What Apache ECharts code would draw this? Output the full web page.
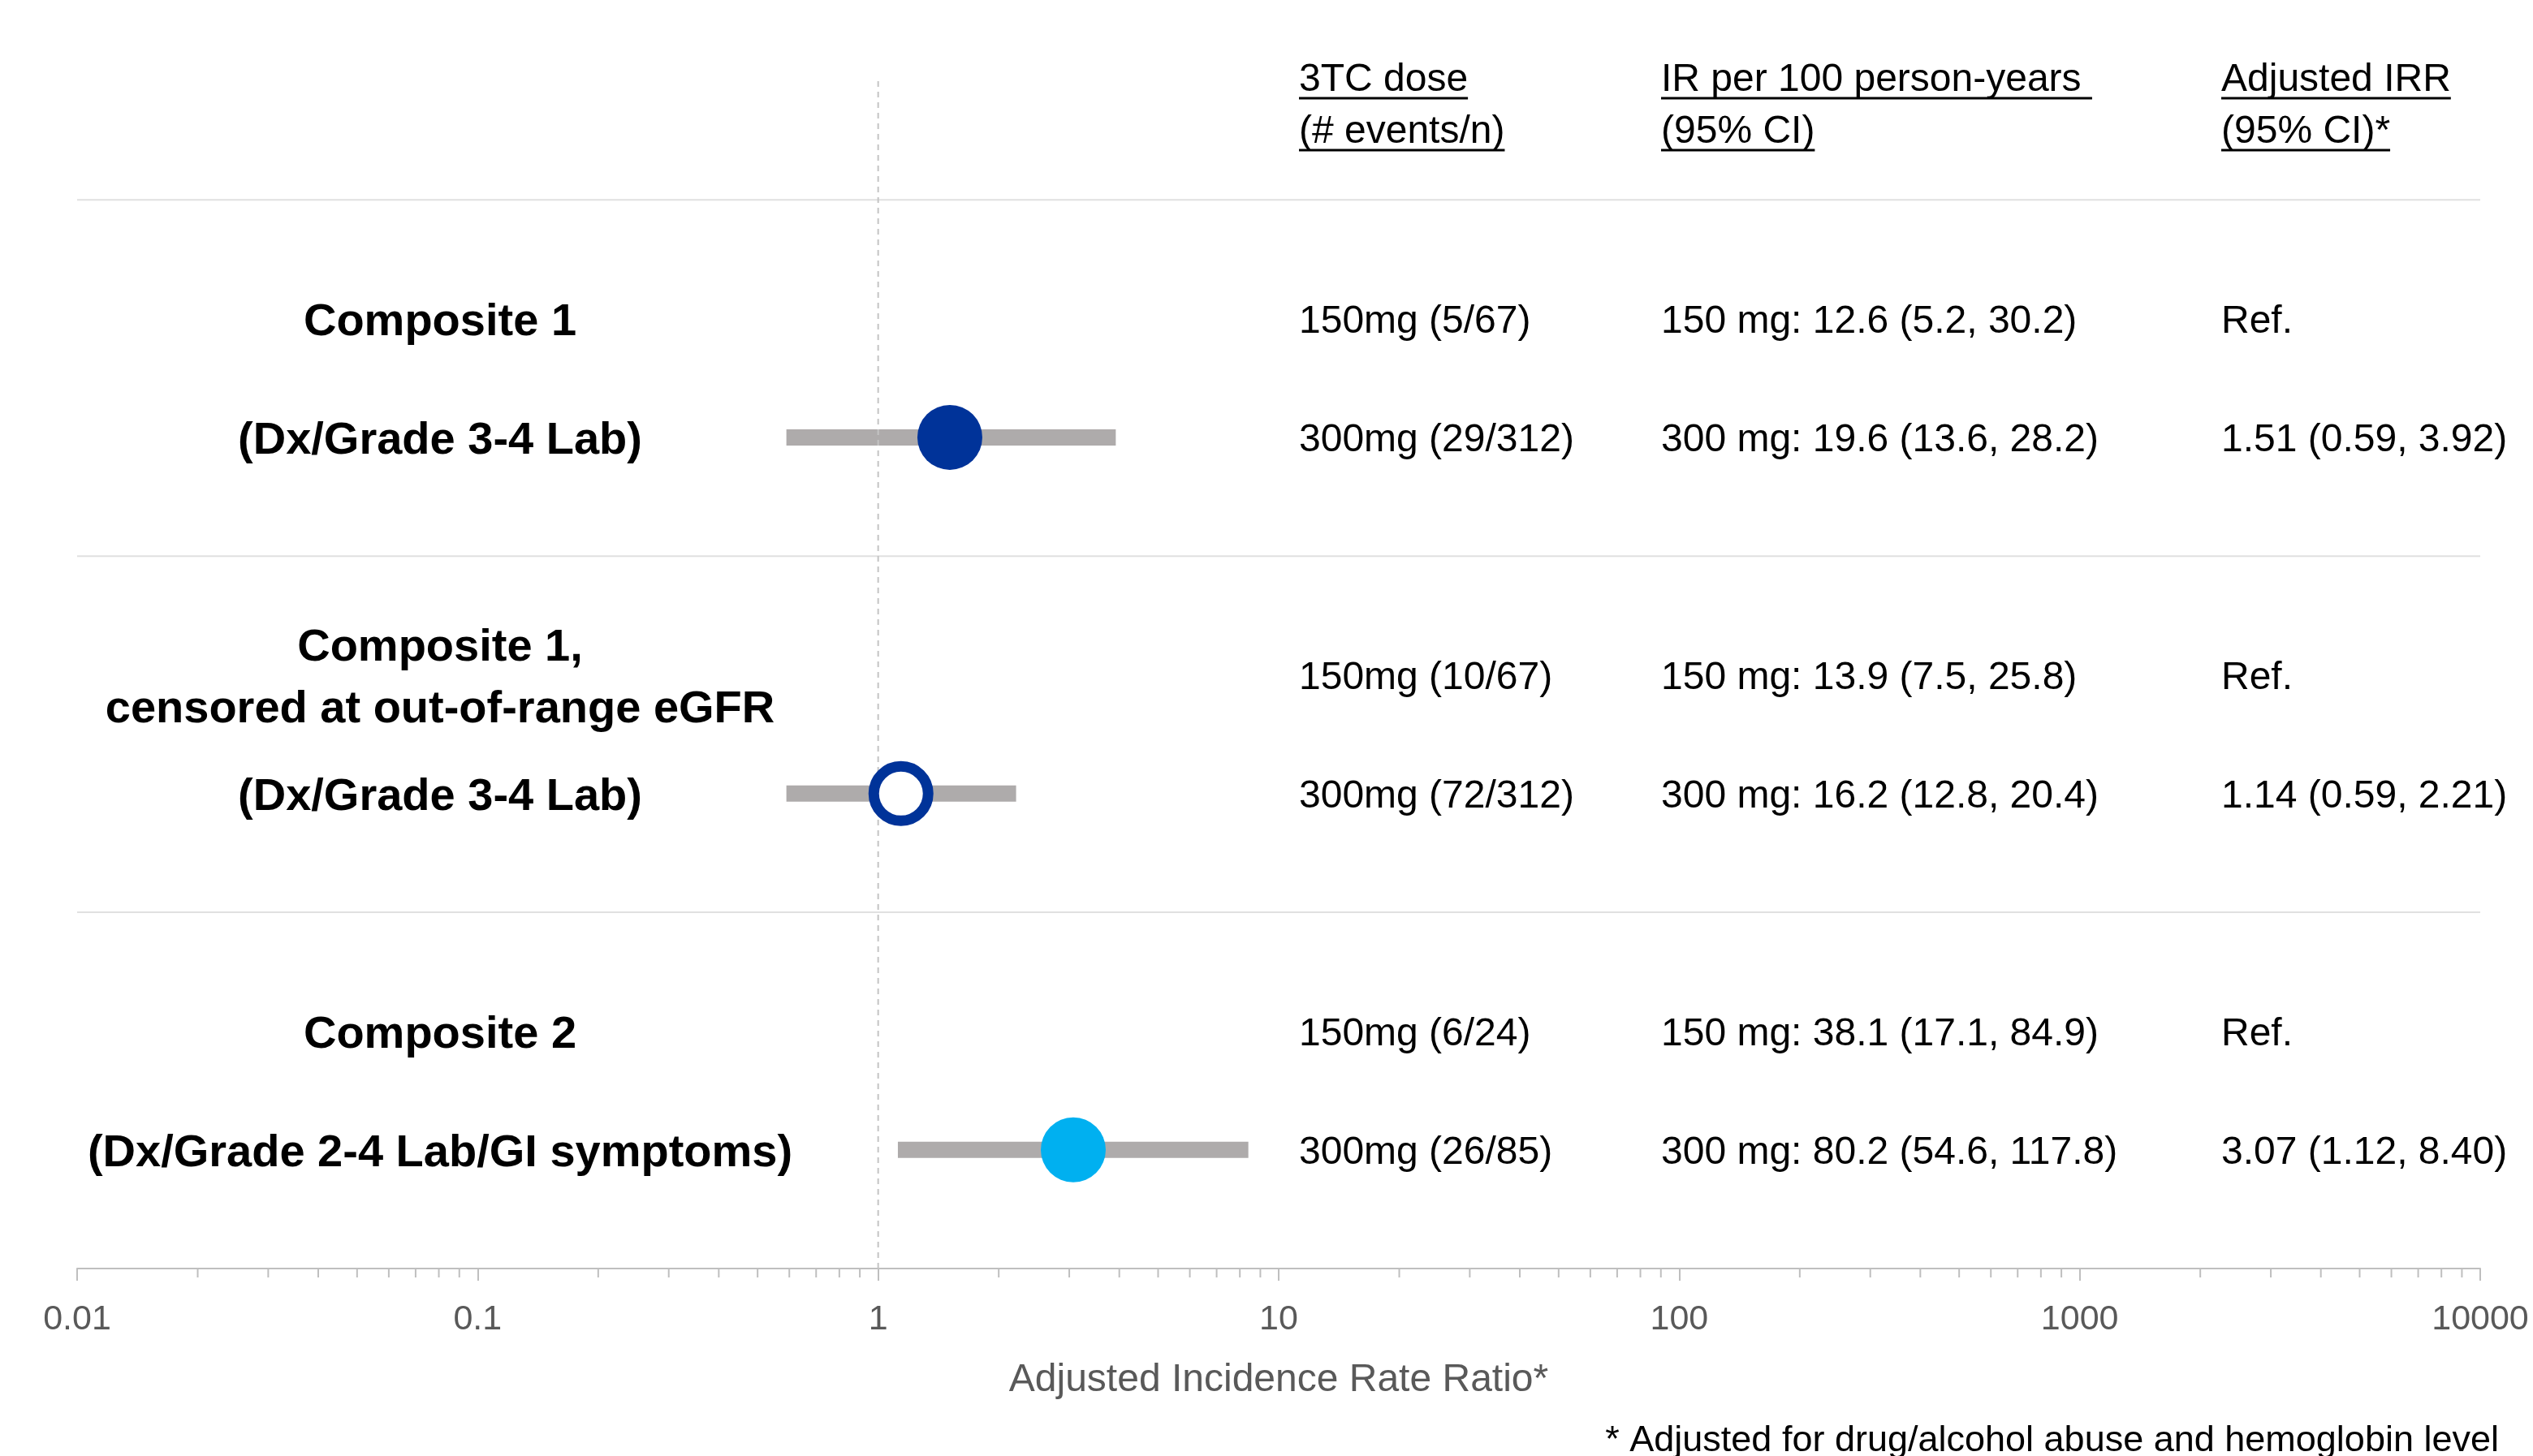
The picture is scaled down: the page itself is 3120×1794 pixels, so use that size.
<!DOCTYPE html>
<html>
<head>
<meta charset="utf-8">
<script src="https://cdn.jsdelivr.net/npm/echarts@6/dist/echarts.min.js"></script>
<style>
  html, body { margin: 0; padding: 0; background: #ffffff; }
  #main { width: 3120px; height: 1794px; }
</style>
</head>
<body>
<div id="main"></div>
<script>
// ---------- data ----------
const outcomes = ['Composite 1', 'Composite 1,\ncensored at out-of-range eGFR', 'Composite 2'];
const outcomeDefs = ['(Dx/Grade 3-4 Lab)', '(Dx/Grade 3-4 Lab)', '(Dx/Grade 2-4 Lab/GI symptoms)'];
const dose150 = ['150mg (5/67)', '150mg (10/67)', '150mg (6/24)'];
const dose300 = ['300mg (29/312)', '300mg (72/312)', '300mg (26/85)'];
const ir150 = ['150 mg: 12.6 (5.2, 30.2)', '150 mg: 13.9 (7.5, 25.8)', '150 mg: 38.1 (17.1, 84.9)'];
const ir300 = ['300 mg: 19.6 (13.6, 28.2)', '300 mg: 16.2 (12.8, 20.4)', '300 mg: 80.2 (54.6, 117.8)'];
const irrRef = ['Ref.', 'Ref.', 'Ref.'];
const irrEst = [1.51, 1.14, 3.07];
const irrLow = [0.59, 0.59, 1.12];
const irrHigh = [3.92, 2.21, 8.40];
const headers = [
  ['3TC dose', '(# events/n)'],
  ['IR per 100 person-years ', '(95% CI)'],
  ['Adjusted IRR', '(95% CI)*']
];
const tickLabels = ['0.01', '0.1', '1', '10', '100', '1000', '10000'];
const decades = [0.01, 0.1, 1, 10, 100, 1000];
const minorMultipliers = [2, 3, 4, 5, 6, 7, 8, 9];
const axisTitle = 'Adjusted Incidence Rate Ratio*';
const footnote = '* Adjusted for drug/alcohol abuse and hemoglobin level';

// ---------- layout helpers ----------
const FONT = '"Liberation Sans", Arial, sans-serif';
const colX = [1600, 2046, 2736];
const labelX = 542;
const textShift = 4;   // cap-centre correction for 'middle' baseline
const pointStyles = [
  { color: '#003399' },
  { color: '#ffffff', borderColor: '#003399', borderWidth: 13 },
  { color: '#00B0F0' }
];
const pointSizes = [80, 67, 80];

// band i: top separator at 3i, 150mg row at 3i+1, 300mg row at 3i+2
const bandIdx = outcomes.map((_, i) => i);
const row150 = i => 3 * i + 1;
const row300 = i => 3 * i + 2;

const minorTicks = [];
decades.forEach(d => minorMultipliers.forEach(m => minorTicks.push([d * m, 9])));

const measureCtx = document.createElement('canvas').getContext('2d');
function textWidth(t, size, weight) {
  measureCtx.font = (weight || 'normal') + ' ' + size + 'px ' + FONT;
  return measureCtx.measureText(t).width;
}

const chart = echarts.init(document.getElementById('main'));

// header graphics with underlines
const headerGraphics = [];
const headerY = [99, 163];
const underlineY = [121, 185];
headers.forEach((h, c) => {
  h.forEach((line, k) => {
    headerGraphics.push({
      type: 'text', x: colX[c], y: headerY[k], silent: true,
      style: { text: line, fontSize: 48, fontFamily: FONT, fill: '#000', verticalAlign: 'middle' }
    });
    const w = textWidth(line, 48);
    headerGraphics.push({
      type: 'rect', silent: true,
      shape: { x: colX[c], y: underlineY[k] - 1.5, width: w, height: 3 },
      style: { fill: '#000' }
    });
  });
});
headerGraphics.push({
  type: 'text', x: 3078, y: 1776, silent: true,
  style: { text: footnote, fontSize: 45, fontFamily: FONT, fill: '#000', align: 'right', verticalAlign: 'middle' }
});

const option = {
  animation: false,
  textStyle: { fontFamily: FONT },
  grid: { left: 95, right: 65, top: 100, bottom: 231 },
  xAxis: {
    type: 'log', logBase: 10, min: 0.01, max: 10000, splitNumber: 6,
    axisLine: { onZero: false, lineStyle: { color: '#bfbfbf', width: 2 } },
    axisTick: { length: 15, lineStyle: { color: '#bfbfbf', width: 2 } },
    axisLabel: {
      fontSize: 43, color: '#595959', margin: 63, verticalAlign: 'middle',
      formatter: v => tickLabels[Math.round(Math.log10(v)) + 2]
    },
    splitLine: { show: false },
    name: axisTitle, nameLocation: 'middle', nameGap: 138,
    nameTextStyle: { fontSize: 48, color: '#595959', verticalAlign: 'middle' }
  },
  yAxis: { type: 'value', min: -1, max: 9, inverse: true, show: false, splitLine: { show: false } },
  graphic: headerGraphics,
  series: [
    { // separators
      type: 'custom', silent: true, clip: false, z: 1,
      data: bandIdx.map(i => [1, 3 * i]),
      encode: { x: 0, y: 1 },
      renderItem: (params, api) => {
        const a = api.coord([0.01, api.value(1)]);
        const b = api.coord([10000, api.value(1)]);
        return { type: 'line', shape: { x1: a[0], y1: a[1], x2: b[0], y2: b[1] },
          style: { stroke: '#e0e0e0', lineWidth: 2 } };
      }
    },
    { // minor ticks
      type: 'custom', silent: true, clip: false, z: 1,
      data: minorTicks, encode: { x: 0, y: 1 },
      renderItem: (params, api) => {
        const p = api.coord([api.value(0), api.value(1)]);
        return { type: 'line', shape: { x1: p[0], y1: p[1], x2: p[0], y2: p[1] + 11 },
          style: { stroke: '#bfbfbf', lineWidth: 2 } };
      }
    },
    { // CI bars
      type: 'custom', silent: true, z: 2,
      data: bandIdx.map(i => [irrLow[i], irrHigh[i], row300(i)]),
      encode: { x: [0, 1], y: 2 },
      renderItem: (params, api) => {
        const a = api.coord([api.value(0), api.value(2)]);
        const b = api.coord([api.value(1), api.value(2)]);
        return { type: 'rect', shape: { x: a[0], y: a[1] - 10, width: b[0] - a[0], height: 20 },
          style: { fill: '#AEABAB' } };
      }
    },
    { // reference line at 1
      type: 'custom', silent: true, clip: false, z: 3,
      data: [[1, -1, 9]], encode: { x: 0, y: [1, 2] },
      renderItem: (params, api) => {
        const a = api.coord([api.value(0), api.value(1)]);
        const b = api.coord([api.value(0), api.value(2)]);
        return { type: 'line', shape: { x1: a[0], y1: a[1], x2: b[0], y2: b[1] },
          style: { stroke: '#c4c4c4', lineWidth: 2, lineDash: [7, 6] } };
      }
    },
    { // point estimates
      type: 'scatter', silent: true, z: 4,
      data: bandIdx.map(i => ({
        value: [irrEst[i], row300(i)],
        symbolSize: pointSizes[i],
        itemStyle: Object.assign({ opacity: 1 }, pointStyles[i])
      }))
    },
    { // table text & outcome labels
      type: 'custom', silent: true, clip: false, z: 5,
      data: bandIdx.map(i => [1, row150(i), row300(i)]),
      encode: { x: 0, y: [1, 2] },
      renderItem: (params, api) => {
        const i = params.dataIndex;
        const y1 = api.coord([1, api.value(1)])[1] + textShift;
        const y2 = api.coord([1, api.value(2)])[1] + textShift;
        const children = [];
        const txt = (t, x, y, size, weight, align) => children.push({
          type: 'text', x: x, y: y,
          style: { text: t, fontSize: size, fontWeight: weight || 'normal', fontFamily: FONT,
            fill: '#000', align: align || 'left', verticalAlign: 'middle' }
        });
        const titleLines = outcomes[i].split('\n');
        const gap = 76;
        titleLines.forEach((t, k) => {
          txt(t, labelX, y1 + 1 + (k - (titleLines.length - 1) / 2) * gap, 56, 'bold', 'center');
        });
        txt(outcomeDefs[i], labelX, y2 + 1, 56, 'bold', 'center');
        txt(dose150[i], colX[0], y1, 48);
        txt(dose300[i], colX[0], y2, 48);
        txt(ir150[i], colX[1], y1, 48);
        txt(ir300[i], colX[1], y2, 48);
        txt(irrRef[i], colX[2], y1, 48);
        txt(irrEst[i].toFixed(2) + ' (' + irrLow[i].toFixed(2) + ', ' + irrHigh[i].toFixed(2) + ')', colX[2], y2, 48);
        return { type: 'group', children: children };
      }
    }
  ]
};
chart.setOption(option);
</script>
</body>
</html>
